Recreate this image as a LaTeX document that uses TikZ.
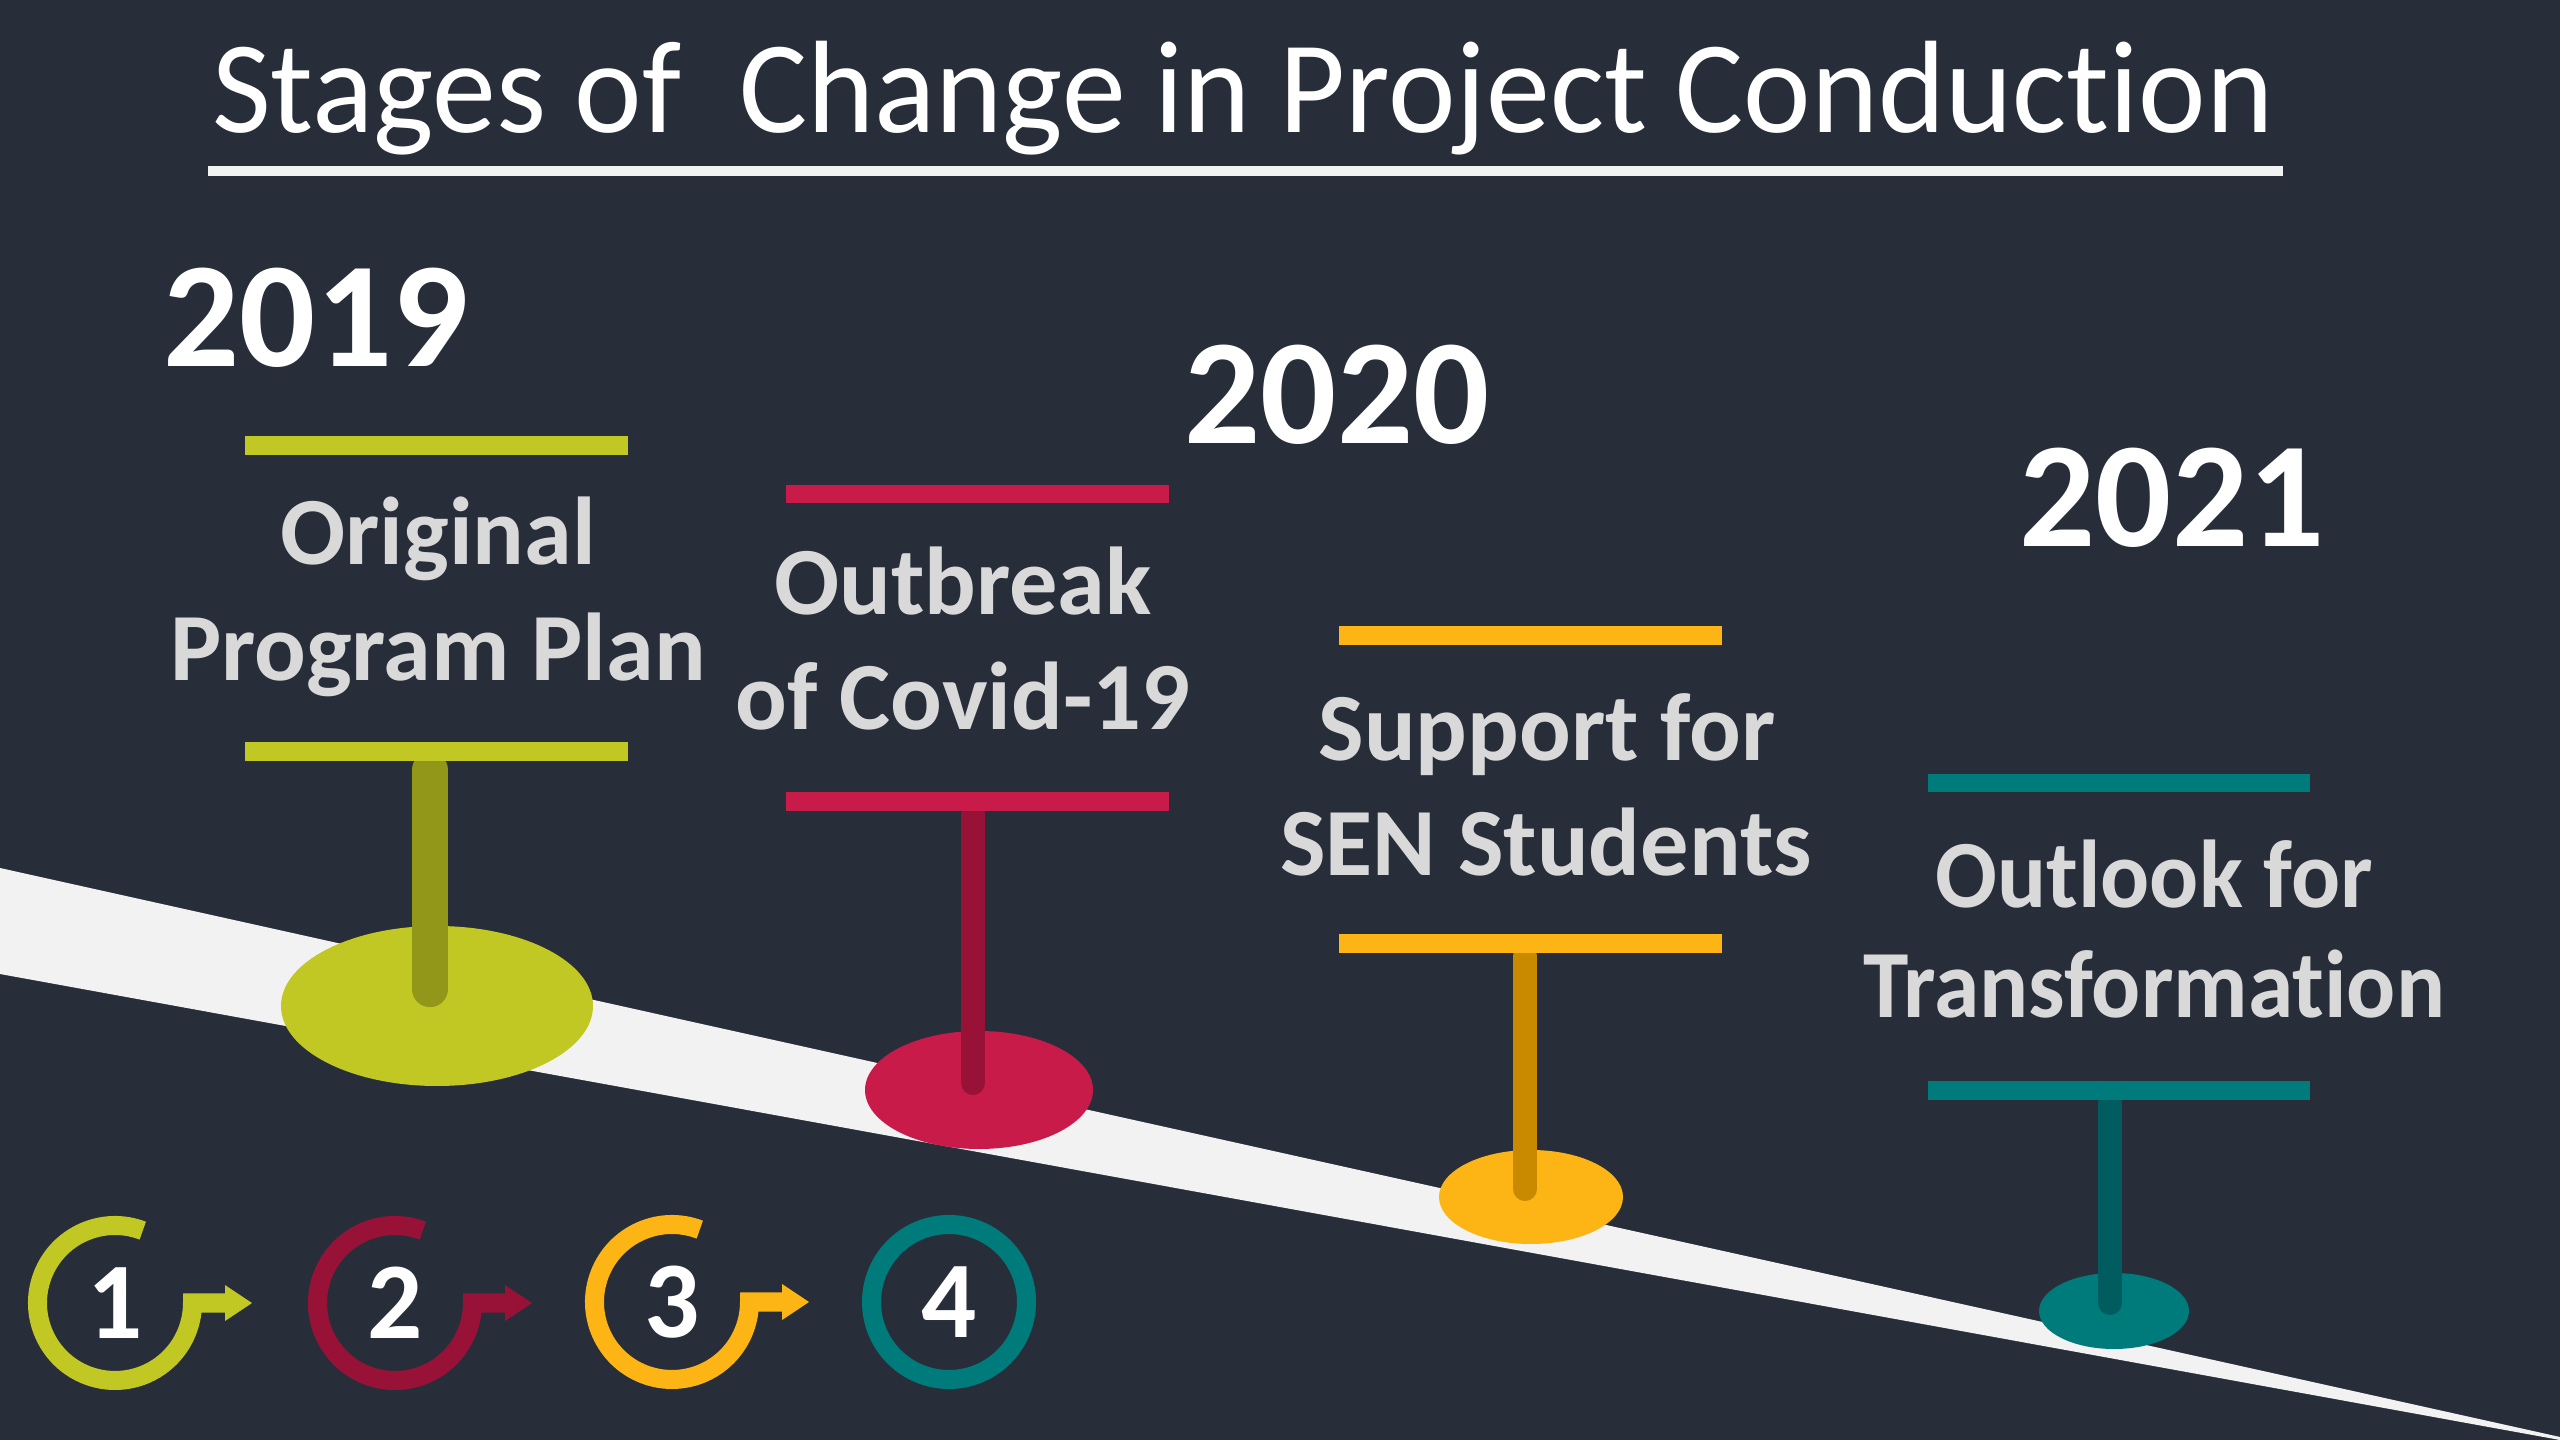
\documentclass[tikz,border=0pt]{standalone}
\usepackage{fontspec}
\setmainfont{Carlito}[Ligatures=NoCommon]
\newfontfamily\titlefont{Carlito}[Ligatures=NoCommon, FakeStretch=0.972]
\newfontfamily\narrowfont{Carlito}[Ligatures=NoCommon, FakeStretch=0.95]
\definecolor{bg}{HTML}{282E39}
\definecolor{road}{HTML}{F2F2F2}
\definecolor{lbl}{HTML}{D9D9D9}
\definecolor{lime}{HTML}{C1C823}
\definecolor{limedk}{HTML}{929619}
\definecolor{crim}{HTML}{C91B4A}
\definecolor{crimdk}{HTML}{981238}
\definecolor{gold}{HTML}{FDB515}
\definecolor{golddk}{HTML}{C98A00}
\definecolor{teal}{HTML}{007B7C}
\definecolor{tealdk}{HTML}{005C5E}
\tikzset{
  titletext/.style={inner sep=0pt, anchor=base, text=white, font=\titlefont\fontsize{37.4pt}{44pt}\selectfont},
  yeartext/.style={inner sep=0pt, anchor=base, text=white, font=\bfseries\fontsize{42.7pt}{50pt}\selectfont},
  labeltext/.style={inner sep=0pt, anchor=base, text=lbl, font=\bfseries\fontsize{27.4pt}{33pt}\selectfont},
  narrowlabel/.style={labeltext, font=\narrowfont\bfseries\fontsize{27.4pt}{33pt}\selectfont},
  digittext/.style={inner sep=0pt, anchor=center, text=white, font=\bfseries\fontsize{31pt}{36pt}\selectfont},
  stemline/.style={line cap=round, line width=6.83pt},
  ringline/.style={line width=5.41pt, line cap=butt, line join=miter},
}
\begin{document}
\begin{tikzpicture}[x=0.01cm,y=-0.01cm]
\fill[bg] (0,0) rectangle (2560,1440);
\useasboundingbox (0,0) rectangle (2560,1440);
% road
\fill[road] (0,868) -- (2560,1437) -- (2560,1440) -- (0,974) -- cycle;
% title
\node[titletext] (title) at (1243,133) {Stages of~~Change in Project Conduction};
\fill[road] (208,166) rectangle (2283,176);
% years
\node[yeartext] (y2019) at (316,367) {2019};
\node[yeartext] (y2020) at (1337,444) {2020};
\node[yeartext] (y2021) at (2172,547) {2021};
% stage 1
\fill[lime] (437,1006) ellipse [x radius=156, y radius=80];
\draw[limedk, stemline, line width=10.3pt] (430,770) -- (430,989);
\fill[lime] (245,436) rectangle (628,455);
\fill[lime] (245,742) rectangle (628,761);
\node[labeltext] (l1a) at (438,565) {Original};
\node[labeltext] (l1b) at (438,681) {Program Plan};
% stage 2
\fill[crim] (979,1090) ellipse [x radius=114, y radius=59];
\draw[crimdk, stemline] (973,814) -- (973,1083);
\fill[crim] (786,485) rectangle (1169,503);
\fill[crim] (786,792) rectangle (1169,811);
\node[labeltext] (l2a) at (963,615) {Outbreak};
\node[labeltext] (l2b) at (963,730) {of Covid-19};
% stage 3
\fill[gold] (1531,1197) ellipse [x radius=92, y radius=47];
\draw[golddk, stemline] (1525,956) -- (1525,1189);
\fill[gold] (1339,626) rectangle (1722,645);
\fill[gold] (1339,934) rectangle (1722,953);
\node[labeltext] (l3a) at (1547,761) {Support for};
\node[labeltext] (l3b) at (1546,876) {SEN Students};
% stage 4
\fill[teal] (2114,1311) ellipse [x radius=75, y radius=38];
\draw[tealdk, stemline] (2110,1103) -- (2110,1303);
\fill[teal] (1928,774) rectangle (2310,792);
\fill[teal] (1928,1081) rectangle (2310,1100);
\node[narrowlabel] (l4a) at (2154,908) {Outlook for};
\node[narrowlabel] (l4b) at (2154,1017) {Transformation};
% numbered circles
\coordinate (c1) at (115,1303);
\coordinate (c2) at (395,1303);
\coordinate (c3) at (672,1302);
\coordinate (c4) at (949,1302);
\draw[lime, ringline] ([shift={(-69:77.5)}]c1) arc[start angle=-69, end angle=-360, radius=77.5] -- ++(33,0);
\fill[lime] ([shift={(110,-18)}]c1) -- ([shift={(137,0)}]c1) -- ([shift={(110,18)}]c1) -- cycle;
\draw[crimdk, ringline] ([shift={(-69:77.5)}]c2) arc[start angle=-69, end angle=-360, radius=77.5] -- ++(33,0);
\fill[crimdk] ([shift={(110,-18)}]c2) -- ([shift={(137,0)}]c2) -- ([shift={(110,18)}]c2) -- cycle;
\draw[gold, ringline] ([shift={(-69:77.5)}]c3) arc[start angle=-69, end angle=-360, radius=77.5] -- ++(33,0);
\fill[gold] ([shift={(110,-18)}]c3) -- ([shift={(137,0)}]c3) -- ([shift={(110,18)}]c3) -- cycle;
\draw[teal, ringline] (c4) circle[radius=77.5];
\node[digittext] (n1) at (c1) {1};
\node[digittext] (n2) at (c2) {2};
\node[digittext] (n3) at (c3) {3};
\node[digittext] (n4) at (c4) {4};
\end{tikzpicture}
\end{document}
